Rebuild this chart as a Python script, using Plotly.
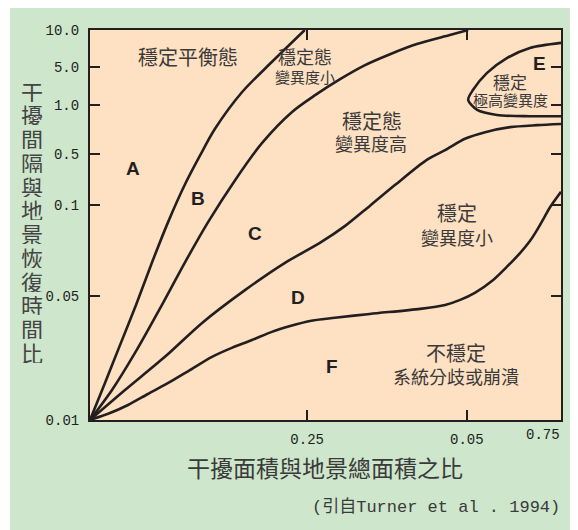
import plotly.graph_objects as go

# ---------------- data (schematic diagram, normalized plot coordinates) -------------
Y_TICK_POS = [0.0, 0.318, 0.551, 0.682, 0.808, 0.905, 1.0]
Y_TICK_TEXT = ["0.01", "0.05", "0.1", "0.5", "1.0", "5.0", "10.0"]
X_TICK_POS = [0.461, 0.800]
X_TICK_TEXT = ["0.25", "0.05"]
X_LAST_TICK_TEXT = "0.75"

# boundary A/B
AB_X = [0, 0.0318, 0.0637, 0.0977, 0.132, 0.166, 0.202, 0.234, 0.265, 0.323, 0.386, 0.456]
AB_Y = [0, 0.0949, 0.192, 0.295, 0.405, 0.508, 0.605, 0.679, 0.746, 0.841, 0.918, 1.0]
# boundary B/C
BC_X = [0, 0.0467, 0.0955, 0.149, 0.202, 0.251, 0.308, 0.365, 0.429, 0.478, 0.531, 0.584, 0.637, 0.694, 0.764, 0.803]
BC_Y = [0, 0.0769, 0.172, 0.287, 0.405, 0.508, 0.615, 0.710, 0.790, 0.833, 0.874, 0.910, 0.938, 0.964, 0.987, 1.0]
# boundary C/D
CD_X = [0, 0.0743, 0.159, 0.238, 0.329, 0.414, 0.488, 0.541, 0.594, 0.648, 0.715, 0.754, 0.796, 0.839, 0.892, 0.949, 1.0]
CD_Y = [0, 0.0769, 0.162, 0.249, 0.333, 0.403, 0.454, 0.497, 0.549, 0.603, 0.667, 0.692, 0.721, 0.738, 0.751, 0.756, 0.759]
# boundary D/F
DF_X = [0, 0.0425, 0.0807, 0.123, 0.166, 0.212, 0.259, 0.301, 0.344, 0.386, 0.425, 0.467, 0.520, 0.594,
        0.701, 0.754, 0.786, 0.817, 0.856, 0.887, 0.913, 0.934, 0.949, 0.966, 0.977, 1.0]
DF_Y = [0, 0.0179, 0.0385, 0.0667, 0.0949, 0.128, 0.162, 0.185, 0.205, 0.226, 0.241, 0.254, 0.262, 0.272,
        0.285, 0.295, 0.308, 0.326, 0.359, 0.395, 0.428, 0.459, 0.487, 0.523, 0.546, 0.585]
# region E loop
E_X = [1.0, 0.934, 0.885, 0.843, 0.813, 0.803, 0.822, 0.864, 0.934, 1.0]
E_Y = [0.967, 0.954, 0.928, 0.890, 0.846, 0.821, 0.795, 0.782, 0.779, 0.779]

REGION_LETTERS = ["A", "B", "C", "D", "F", "E"]
REGION_LX = [0.091, 0.229, 0.350, 0.442, 0.514, 0.955]
REGION_LY = [0.646, 0.569, 0.479, 0.315, 0.136, 0.915]

STATE_TEXT = ["穩定平衡態", "穩定態", "變異度小", "穩定態", "變異度高", "穩定", "變異度小",
              "穩定", "極高變異度", "不穩定", "系統分歧或崩潰"]
STATE_X = [0.208, 0.456, 0.456, 0.599, 0.597, 0.779, 0.779, 0.892, 0.892, 0.776, 0.776]
STATE_Y = [0.931, 0.933, 0.882, 0.769, 0.710, 0.531, 0.469, 0.867, 0.821, 0.172, 0.113]
STATE_SIZE = [20, 18, 15, 20, 18, 20, 18, 17, 15, 20, 18]

X_TITLE = "干擾面積與地景總面積之比"
Y_TITLE = "干擾間隔與地景恢復時間比"
SOURCE = "(引自Turner et al . 1994)"

# ---------------- styling ----------------
INK = "#231f20"
TXT = "#3a3a3a"
GREEN = "#cde6cc"
PEACH = "#fee0c2"
CJK = "Noto Sans CJK TC, Noto Sans, sans-serif"
MONO = "Liberation Mono, DejaVu Sans Mono, Noto Sans CJK TC, monospace"

fig = go.Figure()
for xs, ys in [(AB_X, AB_Y), (BC_X, BC_Y), (CD_X, CD_Y), (DF_X, DF_Y), (E_X, E_Y)]:
    fig.add_trace(go.Scatter(x=xs, y=ys, mode="lines",
                             line=dict(color=INK, width=2.6, shape="spline", smoothing=0.8),
                             hoverinfo="skip", showlegend=False, cliponaxis=True))

annotations = []
for t, x, y in zip(REGION_LETTERS, REGION_LX, REGION_LY):
    annotations.append(dict(x=x, y=y, xref="x", yref="y", text=f"<b>{t}</b>", showarrow=False,
                            font=dict(family="Liberation Sans, Arial, sans-serif", size=19, color=INK)))
for t, x, y, s in zip(STATE_TEXT, STATE_X, STATE_Y, STATE_SIZE):
    annotations.append(dict(x=x, y=y, xref="x", yref="y", text=t, showarrow=False,
                            font=dict(family=CJK, size=s, color=TXT)))

# axis titles and notes (paper coordinates)
annotations.append(dict(x=0.499, y=-0.1205, xref="paper", yref="paper", text=X_TITLE, showarrow=False,
                        xanchor="center", yanchor="middle", font=dict(family=CJK, size=23, color=TXT)))
step = 0.0609
for i, ch in enumerate(Y_TITLE):
    annotations.append(dict(x=-0.123, y=0.846 - i * step, xref="paper", yref="paper", text=ch,
                            showarrow=False, xanchor="center", yanchor="middle",
                            height=23, borderpad=0,
                            font=dict(family=CJK, size=22, color="#444444")))
annotations.append(dict(x=1.002, y=-0.038, xref="paper", yref="paper", text=X_LAST_TICK_TEXT,
                        showarrow=False, xanchor="right", yanchor="middle",
                        font=dict(family=MONO, size=14, color=INK)))
annotations.append(dict(x=1.002, y=-0.223, xref="paper", yref="paper", text=SOURCE,
                        showarrow=False, xanchor="right", yanchor="middle",
                        font=dict(family=MONO, size=17, color=TXT)))

shapes = [
    dict(type="rect", xref="paper", yref="paper", x0=-0.170, x1=1.030, y0=-0.30, y1=1.07,
         fillcolor=GREEN, line=dict(width=0), layer="below"),
    dict(type="rect", xref="x", yref="y", x0=0, x1=1, y0=0, y1=1,
         fillcolor=PEACH, line=dict(width=0), layer="below"),
]

axis_common = dict(range=[0, 1], showgrid=False, zeroline=False, showline=True, mirror="ticks",
                   linecolor=INK, linewidth=2, ticks="inside", ticklen=10, tickwidth=2,
                   tickcolor=INK, tickfont=dict(family=MONO, size=14, color=INK), fixedrange=True)

# the page adds an 8 px body margin, so the figure is sized 8 px smaller than the window
fig.update_layout(
    width=570, height=522,
    margin=dict(l=82, r=17, t=22, b=110),
    paper_bgcolor="white", plot_bgcolor="rgba(0,0,0,0)",
    xaxis=dict(tickmode="array", tickvals=X_TICK_POS, ticktext=X_TICK_TEXT,
               ticklabelstandoff=5, **axis_common),
    yaxis=dict(tickmode="array", tickvals=Y_TICK_POS, ticktext=Y_TICK_TEXT,
               ticklabelstandoff=6, **axis_common),
    annotations=annotations, shapes=shapes, showlegend=False,
)

fig.write_html("out.html")
